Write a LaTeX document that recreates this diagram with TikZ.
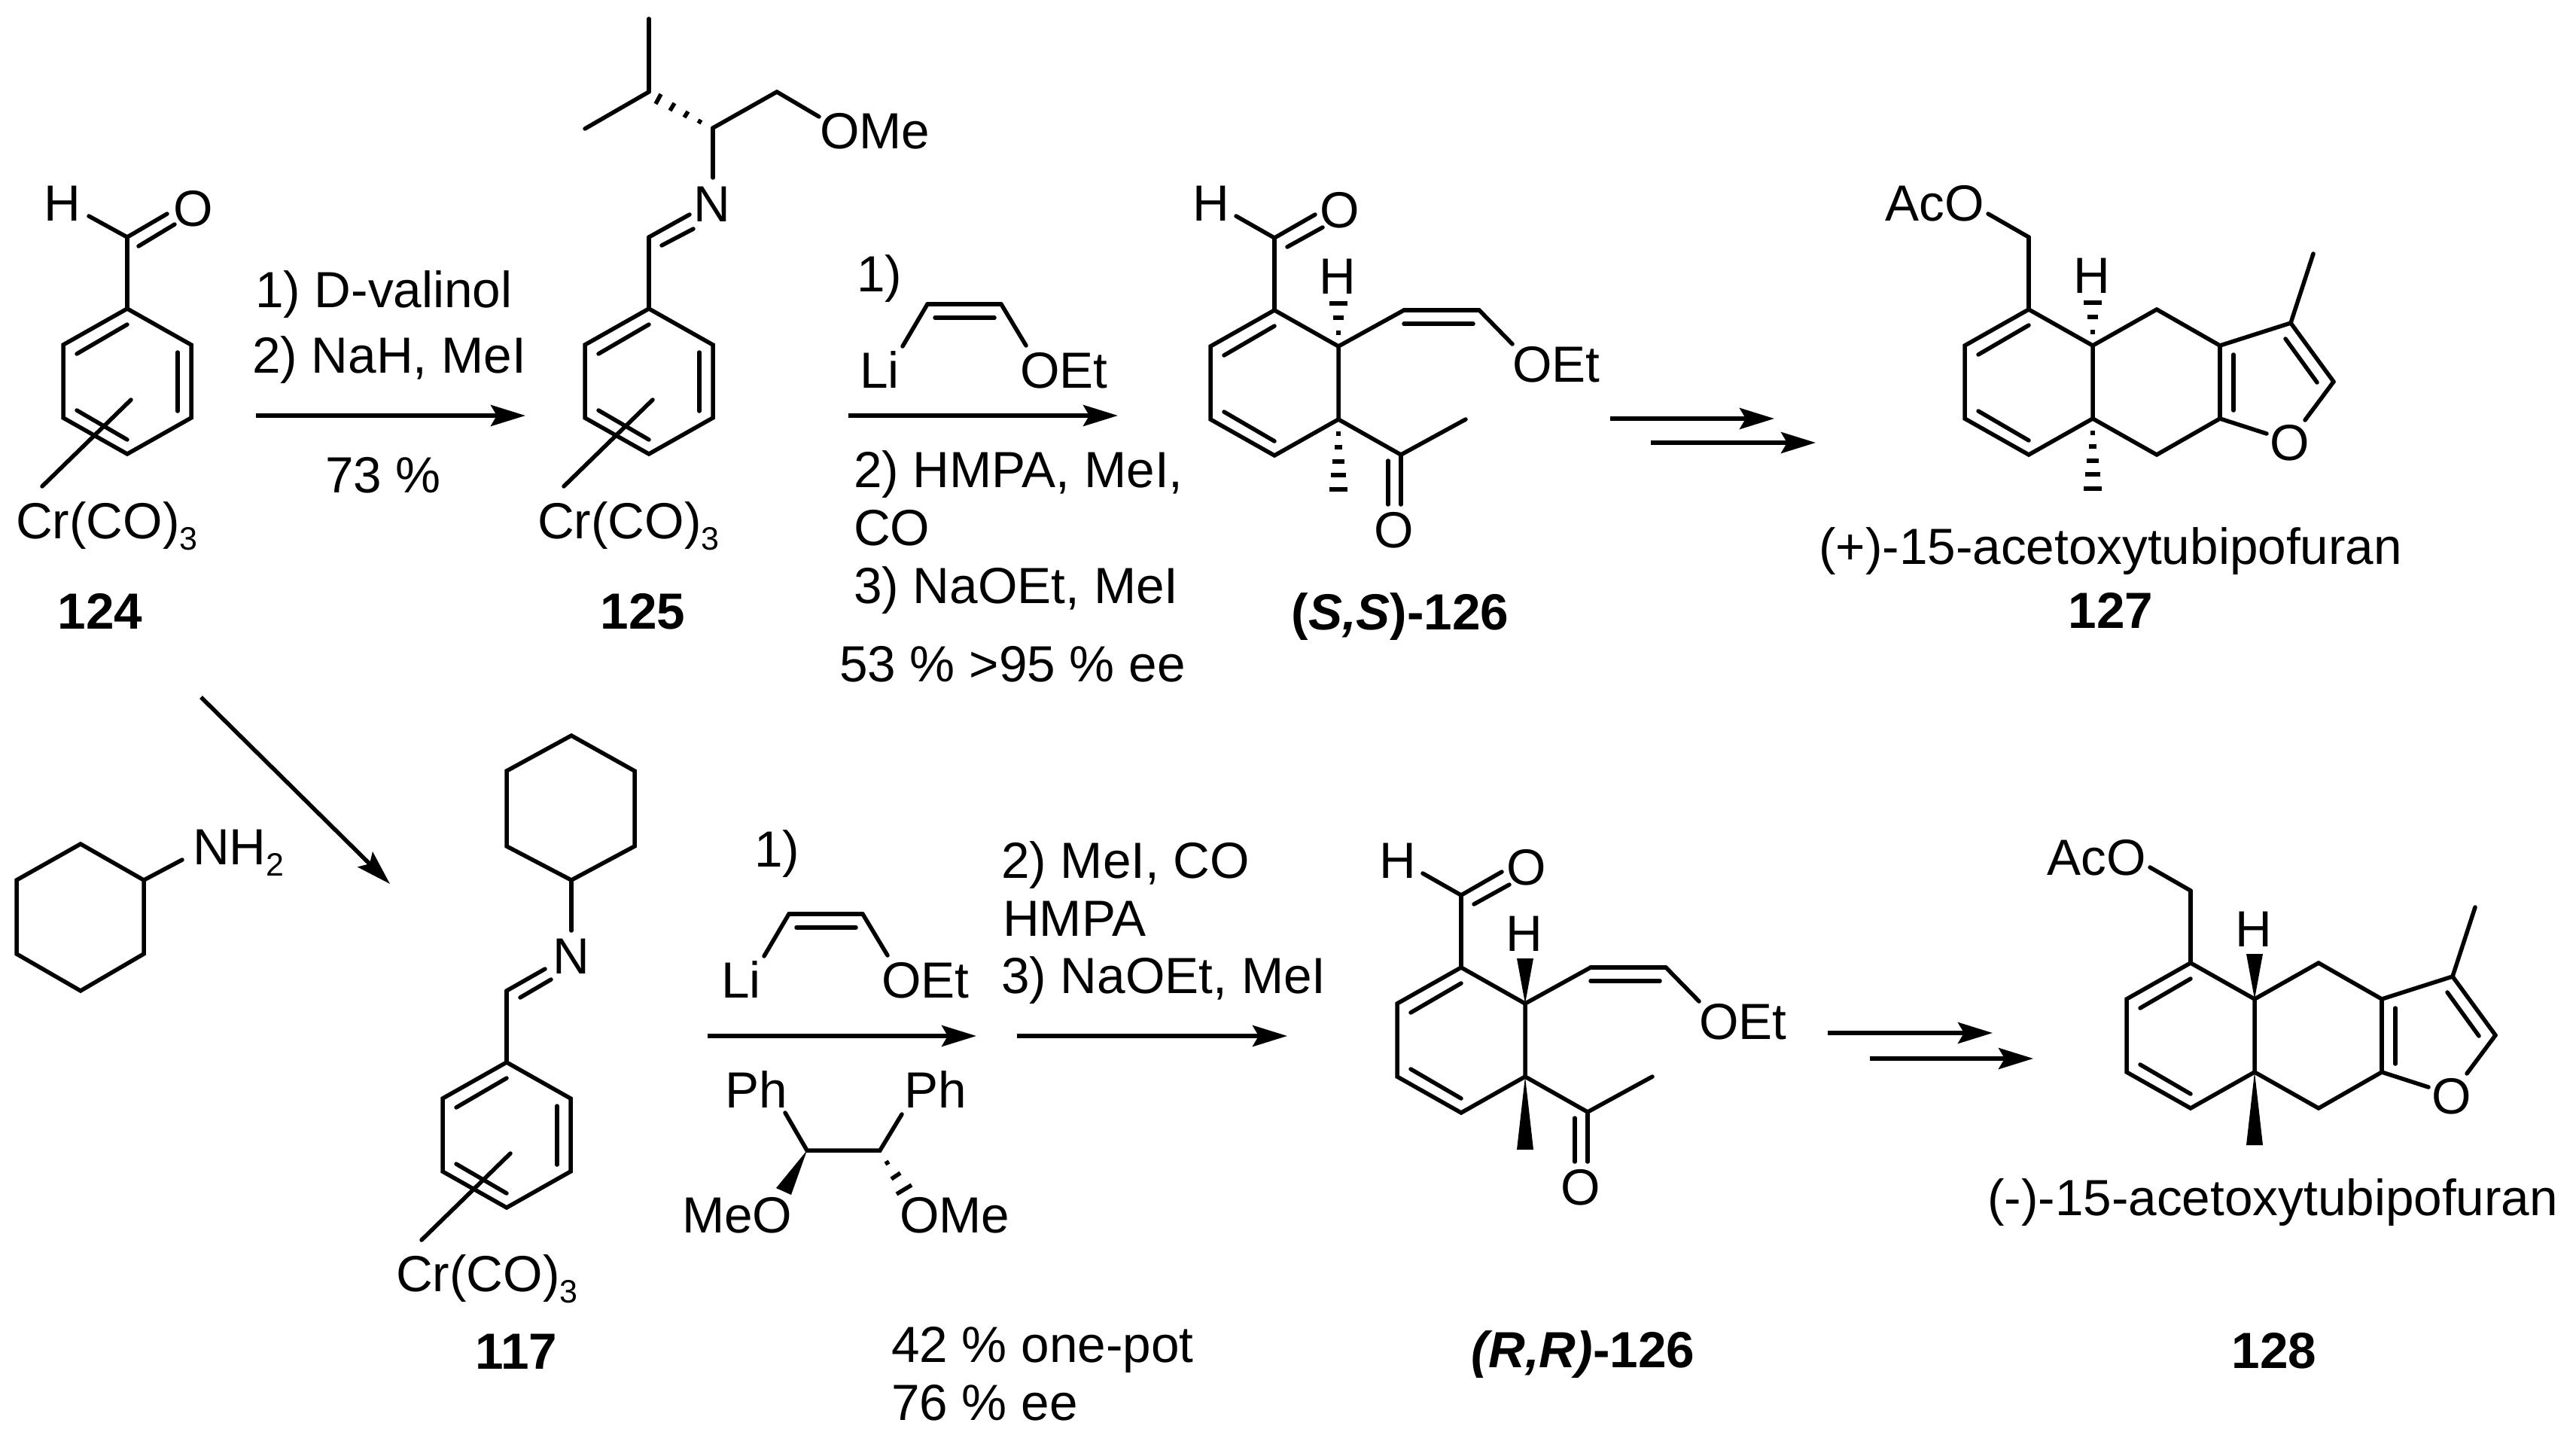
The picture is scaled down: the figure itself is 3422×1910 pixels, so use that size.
\documentclass[tikz,border=0pt]{standalone}
\usepackage{fontspec}
\setmainfont{Liberation Sans}
\usetikzlibrary{arrows.meta}
\newcommand{\lsub}[1]{\raisebox{-15pt}{\fontsize{43}{50}\selectfont #1}}
\begin{document}
\begin{tikzpicture}[
    x = 1pt,
    y = -1pt,
    every node/.style = {inner sep = 0pt, font = \fontsize{67.5}{80}\selectfont},
    txt/.style = {anchor = base west},
    num/.style = {anchor = base, font = \fontsize{67.5}{80}\selectfont\bfseries},
    bond/.style = {line width = 5.5pt, line cap = round},
    hashmark/.style = {line width = 5.5pt},
    rxn/.style = {line width = 5.5pt, -{Stealth[length = 46pt, width = 28pt, inset = 8pt]}}
  ]
  \useasboundingbox (0,0) rectangle (3422,1910);
  % the six-membered rings
  \foreach \r/\x/\y in {r124/169/410, r125/862/410, r117/673/1411, rss/1693/412, rrr/1941/1285, r127/2695/411, r128/2910/1279} {
    \begin{scope}[shift = {(\x,\y)}]
      \coordinate (\r-1) at (0,0);
      \coordinate (\r-2) at (85,48);
      \coordinate (\r-3) at (85,145);
      \coordinate (\r-4) at (0,193);
      \coordinate (\r-5) at (-85,145);
      \coordinate (\r-6) at (-85,48);
      \coordinate (\r-i1) at (-67,60);
      \coordinate (\r-i2) at (0,21);
      \coordinate (\r-i3) at (-67,135);
      \coordinate (\r-i4) at (0,174);
      \draw[bond] (\r-1) -- (\r-2) -- (\r-3) -- (\r-4) -- (\r-5) -- (\r-6) -- cycle;
      \draw[bond] (\r-i1) -- (\r-i2);
      \draw[bond] (\r-i3) -- (\r-i4);
    \end{scope}
  }
  % the chromium complexes
  \foreach \r in {r124, r125, r117} {
    \coordinate (\r-i5) at ([shift = {(67,58)}]\r-1);
    \coordinate (\r-i6) at ([shift = {(67,136)}]\r-1);
    \coordinate (\r-m1) at ([shift = {(5,121)}]\r-1);
    \coordinate (\r-m2) at ([shift = {(-113,236)}]\r-1);
    \coordinate (\r-s) at ([shift = {(0,-95)}]\r-1);
    \draw[bond] (\r-i5) -- (\r-i6);
    \draw[bond] (\r-m1) -- (\r-m2);
    \draw[bond] (\r-1) -- (\r-s);
  }
  \node[txt] (cr124) at (21,715) {Cr(CO)\lsub{3}};
  \node[txt] (cr125) at (714,715) {Cr(CO)\lsub{3}};
  \node[txt] (cr117) at (526,1715) {Cr(CO)\lsub{3}};
  % aldehyde 124
  \node (h124) at (83,270) {H};
  \node (o124) at (257,277) {O};
  \foreach \n/\x/\y in {h124e/118/287, o124e/222/284, d124a/184/327, d124b/232/298}
    \coordinate (\n) at (\x,\y);
  \foreach \p/\q in {r124-s/h124e, r124-s/o124e, d124a/d124b}
    \draw[bond] (\p) -- (\q);
  % imine 125
  \node (n125) at (946,271) {N};
  \node[txt] (ome125) at (1089,198) {OMe};
  \foreach \n/\x/\y in {n125a/916/285, d125a/879/326, d125b/921/304, n125b/947/236, cs125/947/170, cm125/1032/122, o125e/1088/155, ch125/862/122, me125a/862/25, me125b/777/171}
    \coordinate (\n) at (\x,\y);
  \foreach \p/\q in {r125-s/n125a, d125a/d125b, n125b/cs125, cs125/cm125, cm125/o125e, ch125/me125a, ch125/me125b}
    \draw[bond] (\p) -- (\q);
  \foreach \ax/\ay/\bx/\by in {928/164/931/159, 909/156/914/148, 890/147/896/137, 871/138/878/125}
    \draw[hashmark] (\ax,\ay) -- (\bx,\by);
  % imine 117 and the amine
  \node (n117) at (759,1270) {N};
  \node[txt] (nh2) at (256,1148) {NH\lsub{2}};
  \foreach \n/\x/\y in {a1/107/1121, a2/191/1169, a3/191/1267, a4/107/1316, a5/22/1267, a6/22/1169, a7/242/1142, b1/759/977, b2/843/1024, b3/843/1124, b4/759/1169, b5/673/1124, b6/673/1024, b7/759/1236, n117a/724/1287, d117a/691/1325, d117b/732/1301}
    \coordinate (\n) at (\x,\y);
  \draw[bond] (a1) -- (a2) -- (a3) -- (a4) -- (a5) -- (a6) -- cycle;
  \draw[bond] (b1) -- (b2) -- (b3) -- (b4) -- (b5) -- (b6) -- cycle;
  \foreach \p/\q in {a2/a7, b4/b7, r117-s/n117a, d117a/d117b}
    \draw[bond] (\p) -- (\q);
  % the two enantiomers of 126
  \foreach \r in {rss, rrr} {
    \begin{scope}[shift = {(\r-1)}]
      \node (\r-h1) at (-84,-142) {H};
      \node (\r-o1) at (87,-133) {O};
      \node (\r-h2) at (84,-45) {H};
      \node[txt] (\r-oet) at (316,95) {OEt};
      \node (\r-o2) at (159,292) {O};
      \foreach \n/\x/\y in {c/0/-96, e1/-51/-125, e2/54/-127, d1/17/-84, d2/64/-110, v1/172/0, v2/272/0, v3/172/18, v4/264/18, v5/316/45, k1/168/192, k2/254/145, k3/168/258, k4/151/200, k5/151/258}
        \coordinate (\r-\n) at (\x,\y);
      \foreach \p/\q in {c/1, c/e1, c/e2, d1/d2, 2/v1, v1/v2, v3/v4, v2/v5, 3/k1, k1/k2, k1/k3, k4/k5}
        \draw[bond] (\r-\p) -- (\r-\q);
    \end{scope}
  }
  % the two enantiomers of the furan
  \foreach \r in {r127, r128} {
    \begin{scope}[shift = {(\r-1)}]
      \node (\r-h) at (84,-45) {H};
      \node[txt] (\r-aco) at (-191,-117) {AcO};
      \node (\r-o) at (347,177) {O};
      \foreach \n/\x/\y in {c/0/-96, e/-54/-127, t1/170/0, t2/254/48, t3/254/145, t4/170/193, t5/272/60, t6/272/134, f1/348/18, f2/405/96, f3/367/147, f4/316/165, f5/341/39, f6/383/97, f7/378/-74}
        \coordinate (\r-\n) at (\x,\y);
      \foreach \p/\q in {1/c, c/e, 2/t1, t1/t2, t2/t3, t3/t4, t4/3, t5/t6, t2/f1, f1/f2, f2/f3, t3/f4, f5/f6, f1/f7}
        \draw[bond] (\r-\p) -- (\r-\q);
    \end{scope}
  }
  % down bonds on the (+) series
  \foreach \r in {rss, r127} {
    \foreach \d/\w in {-57/12, -38/7, -18/3}
      \draw[hashmark] ([shift = {(-\w,\d)}]\r-2) -- ([shift = {(\w,\d)}]\r-2);
    \foreach \d/\w in {19/3, 37/5, 56/8, 74/10, 93/12}
      \draw[hashmark] ([shift = {(-\w,\d)}]\r-3) -- ([shift = {(\w,\d)}]\r-3);
  }
  % up bonds on the (-) series
  \foreach \r in {rrr, r128} {
    \fill (\r-2) -- ([shift = {(-11,-60)}]\r-2) -- ([shift = {(11,-60)}]\r-2) -- cycle;
    \fill (\r-3) -- ([shift = {(-11,97)}]\r-3) -- ([shift = {(11,97)}]\r-3) -- cycle;
  }
  % the vinyl lithium in both rows
  \foreach \r/\x/\y in {v1/1232/404, v2/1048/1214} {
    \begin{scope}[shift = {(\x,\y)}]
      \node[txt] (\r-li) at (-90,111) {Li};
      \node[txt] (\r-oet) at (123,111) {OEt};
      \foreach \n/\x/\y in {a/-33/56, b/0/0, c/98/0, d/131/55, e/10/18, f/89/18}
        \coordinate (\r-\n) at (\x,\y);
      \foreach \p/\q in {a/b, b/c, c/d, e/f}
        \draw[bond] (\r-\p) -- (\r-\q);
    \end{scope}
  }
  % the diol ether
  \node[txt] (ph1) at (963,1471) {Ph};
  \node[txt] (ph2) at (1201,1471) {Ph};
  \node[txt] (meo) at (906,1637) {MeO};
  \node[txt] (ome) at (1195,1637) {OMe};
  \foreach \n/\x/\y in {s1/1043/1478, s2/1072/1528, s3/1169/1528, s4/1198/1480, s5/1031/1578, s6/1051/1587}
    \coordinate (\n) at (\x,\y);
  \draw[bond] (s1) -- (s2) -- (s3) -- (s4);
  \fill (s2) -- (s5) -- (s6) -- cycle;
  \foreach \ax/\ay/\bx/\by in {1176/1546/1181/1543, 1184/1566/1196/1558, 1191/1586/1211/1574}
    \draw[hashmark] (\ax,\ay) -- (\bx,\by);
  % reagents
  \node[txt] (t1) at (339,408) {1) D-valinol};
  \node[txt] (t2) at (335,495) {2) NaH, MeI};
  \node[txt] (t3) at (432,654) {73 \%};
  \node[txt] (t4) at (1138,387) {1)};
  \node[txt] (t5) at (1134,647) {2) HMPA, MeI,};
  \node[txt] (t6) at (1134,724) {CO};
  \node[txt] (t7) at (1134,801) {3) NaOEt, MeI};
  \node[txt] (t8) at (1115,905) {53 \% >95 \% ee};
  \node[txt] (t9) at (1002,1151) {1)};
  \node[txt] (t10) at (1330,1166) {2) MeI, CO};
  \node[txt] (t11) at (1332,1243) {HMPA};
  \node[txt] (t12) at (1330,1319) {3) NaOEt, MeI};
  \node[txt] (t13) at (1184,1809) {42 \% one-pot};
  \node[txt] (t14) at (1184,1886) {76 \% ee};
  % names
  \node[txt] (n1) at (2416,749) {(+)-15-acetoxytubipofuran};
  \node[txt] (n2) at (2640,1614) {(-)-15-acetoxytubipofuran};
  \node[num] (l124) at (133,835) {124};
  \node[num] (l125) at (854,835) {125};
  \node[num] (l126a) at (1860,836) {({\itshape S,S})-126};
  \node[num] (l127) at (2804,834) {127};
  \node[num] (l117) at (686,1818) {117};
  \node[num] (l126b) at (2103,1816) {{\itshape (R,R)}-126};
  \node[num] (l128) at (3021,1817) {128};
  % arrows
  \foreach \n/\ax/\ay/\bx/\by in {x1/340/552/698/552, x2/1127/552/1485/552, x3/2139/556/2357/556, x4/2193/588/2412/588, x5/267/926/518/1174, x6/940/1376/1297/1376, x7/1351/1376/1710/1376, x8/2428/1372/2647/1372, x9/2484/1406/2701/1406} {
    \coordinate (\n-s) at (\ax,\ay);
    \coordinate (\n-e) at (\bx,\by);
    \draw[rxn] (\n-s) -- (\n-e);
  }
\end{tikzpicture}
\end{document}
